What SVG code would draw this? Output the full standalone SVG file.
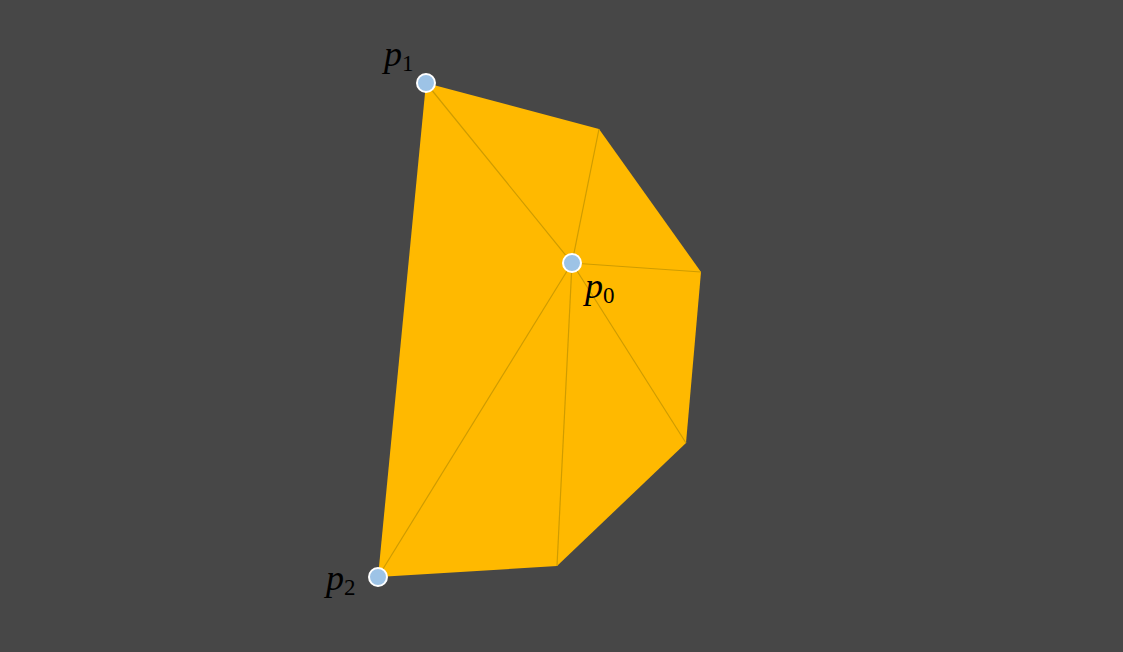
<svg xmlns="http://www.w3.org/2000/svg" width="1123" height="652" viewBox="0 0 1123 652">
<style>
.bg{fill:#474747}
.poly{fill:#FFB900;stroke:none}
.edge{stroke:#CF9C00;stroke-width:1.2;fill:none}
.pt{fill:#9DC3E6;stroke:#FFFFFF;stroke-width:2}
.lbl{font-family:"Liberation Serif",serif;font-style:italic;font-size:36px;fill:#000}
.sub{font-style:normal;font-size:23px}
</style>
<rect class="bg" x="0" y="0" width="1123" height="652"/>
<g id="fan">
<polygon class="poly" points="426,83 599,129 701,272 686,443 557,566 378,577"/>
</g>
<g id="connectors">
<line class="edge" x1="572" y1="263" x2="426" y2="83"/>
<line class="edge" x1="572" y1="263" x2="599" y2="129"/>
<line class="edge" x1="572" y1="263" x2="701" y2="272"/>
<line class="edge" x1="572" y1="263" x2="686" y2="443"/>
<line class="edge" x1="572" y1="263" x2="557" y2="566"/>
<line class="edge" x1="572" y1="263" x2="378" y2="577"/>
</g>
<g id="p1">
<circle class="pt" cx="426" cy="83" r="9"/>
<text class="lbl" x="384" y="66">p<tspan class="sub" dy="5">1</tspan></text>
</g>
<g id="p0">
<circle class="pt" cx="572" cy="263" r="9"/>
<text class="lbl" x="585" y="298">p<tspan class="sub" dy="5">0</tspan></text>
</g>
<g id="p2">
<circle class="pt" cx="378" cy="577" r="9"/>
<text class="lbl" x="326" y="590">p<tspan class="sub" dy="5">2</tspan></text>
</g>
</svg>
